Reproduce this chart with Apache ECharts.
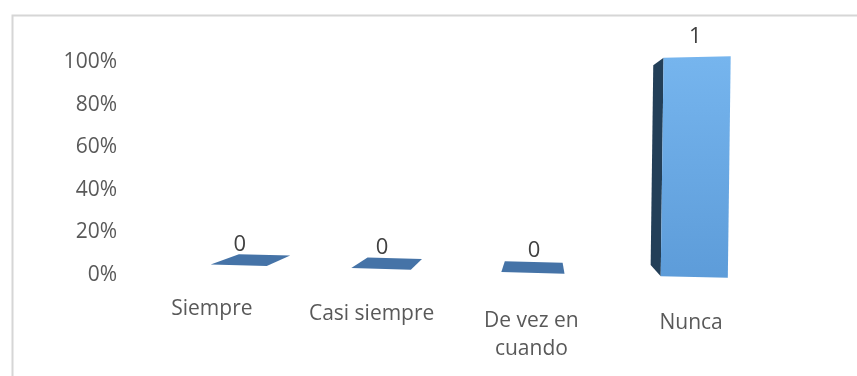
<!DOCTYPE html>
<html><head><meta charset="utf-8">
<script src="https://cdn.jsdelivr.net/npm/echarts@6/dist/echarts.min.js"></script>
<style>html,body{margin:0;padding:0;background:#fff}#c{width:857px;height:376px}</style>
</head><body><div id="c"></div>
<script>
// ---- data ----
const categories = ['Siempre', 'Casi siempre', 'De vez en cuando', 'Nunca'];
const values = [0, 0, 0, 1];
const yTicks = [0, 0.2, 0.4, 0.6, 0.8, 1];

// ---- styling ----
const FONT = 'Open Sans';
const AXIS_COLOR = '#595959';
const LABEL_COLOR = '#404040';

function wrap(s, max) {
  const words = s.split(' '); const lines = []; let cur = '';
  for (const w of words) {
    const t = cur ? cur + ' ' + w : w;
    if (t.length > max && cur) { lines.push(cur); cur = w; } else cur = t;
  }
  lines.push(cur); return lines;
}

// per-category first-line vertical offsets (perspective of the 3D floor)
const lineOffsets = [0, 5, 12, 14];
const rich = { n: { fontSize: 21, fontFamily: FONT, color: AXIS_COLOR, lineHeight: 6 } };
lineOffsets.forEach((o, i) => {
  rich['f' + i] = { fontSize: 21, fontFamily: FONT, color: AXIS_COLOR, lineHeight: 26 + 2 * o };
});

const chart = echarts.init(document.getElementById('c'), null, { renderer: 'canvas' });

function renderItem(params, api) {
  const n = categories.length;
  const i = api.value(0), v = api.value(1);
  const band = api.size([1, 0])[0];
  const p0 = api.coord([i, 0]);
  const pv = api.coord([i, v]);
  const lastU = api.coord([n - 1, 0])[0];
  // perspective warp of the category position
  const t = (lastU - p0[0]) / band;
  const warp = (u, tt) => u + 3.15 - 6.35 * tt + 4.75 * tt * tt;
  const cx = warp(p0[0], t);
  const xLast = warp(lastU, 0);
  const w = band * 0.42 + (cx - xLast) * 0.0242;
  const baseY = x => p0[1] + 2 + (x - xLast) * 0.026;
  const hRaw = (p0[1] - pv[1]) * 1.033;
  const hAt = x => hRaw * (1 + (x - xLast) * 0.00023);
  const xl = cx - w / 2, xr = cx + w / 2;
  const BL = [xl, baseY(xl)], BR = [xr, baseY(xr)];
  const hl = hAt(xl), hr = hAt(xr);
  const TL = [xl + hl * 0.013, BL[1] - hl], TR = [xr + hr * 0.013, BR[1] - hr];
  const VP = [xLast - 152, p0[1] - 130];
  const k = 0.085;
  const back = P => [P[0] + k * (VP[0] - P[0]), P[1] + k * (VP[1] - P[1])];
  const TLb = back(TL), TRb = back(TR), BLb = back(BL), BRb = back(BR);
  const children = [];
  if (TL[1] > VP[1]) {
    children.push({ type: 'polygon', shape: { points: [TL, TR, TRb, TLb] }, style: { fill: '#4573a7' } });
  }
  if (hRaw > 0.5) {
    if (BL[0] > VP[0]) {
      children.push({ type: 'polygon', shape: { points: [BL, TL, TLb, BLb] }, style: { fill: '#233f58' } });
    }
    if (BR[0] < VP[0]) {
      children.push({ type: 'polygon', shape: { points: [BR, TR, TRb, BRb] }, style: { fill: '#233f58' } });
    }
    children.push({
      type: 'polygon', shape: { points: [BL, BR, TR, TL] },
      style: { fill: new echarts.graphic.LinearGradient(0, 0, 0, 1, [
        { offset: 0, color: '#76b5ee' }, { offset: 1, color: '#5d9cd9' }]) }
    });
  }
  const topY = Math.min(TL[1], TR[1], TLb[1], TRb[1]);
  children.push({
    type: 'text',
    style: {
      text: String(v), x: cx + 1, y: topY - 10 - hRaw * 0.045,
      fill: LABEL_COLOR, fontSize: 22, fontFamily: FONT,
      align: 'center', verticalAlign: 'middle'
    }
  });
  return { type: 'group', children };
}

const option = {
  backgroundColor: '#ffffff',
  animation: false,
  graphic: [{
    type: 'rect', left: 10, top: 13, z: -10,
    shape: { width: 900, height: 420 },
    style: { fill: 'none', stroke: '#d6d6d6', lineWidth: 2 }
  }],
  grid: { left: 132, right: 86, top: 62, bottom: 101, containLabel: false },
  xAxis: {
    type: 'category', data: categories,
    axisLine: { show: false }, axisTick: { show: false },
    axisLabel: {
      interval: 0, margin: 21,
      formatter: (value, index) => wrap(value, 12)
        .map((l, j) => '{' + (j === 0 ? 'f' + index : 'n') + '|' + l + '}').join('\n'),
      rich
    }
  },
  yAxis: {
    type: 'value', min: yTicks[0], max: yTicks[yTicks.length - 1],
    interval: yTicks[1] - yTicks[0],
    axisLine: { show: false }, axisTick: { show: false }, splitLine: { show: false },
    axisLabel: {
      margin: 15, color: AXIS_COLOR, fontSize: 21, fontFamily: FONT,
      padding: [4, 0, 0, 0],
      formatter: v => Math.round(v * 100) + '%'
    }
  },
  series: [{
    type: 'custom', renderItem, clip: false,
    encode: { x: 0, y: 1 },
    data: values.map((v, i) => [i, v])
  }]
};
chart.setOption(option);
</script>
</body></html>
